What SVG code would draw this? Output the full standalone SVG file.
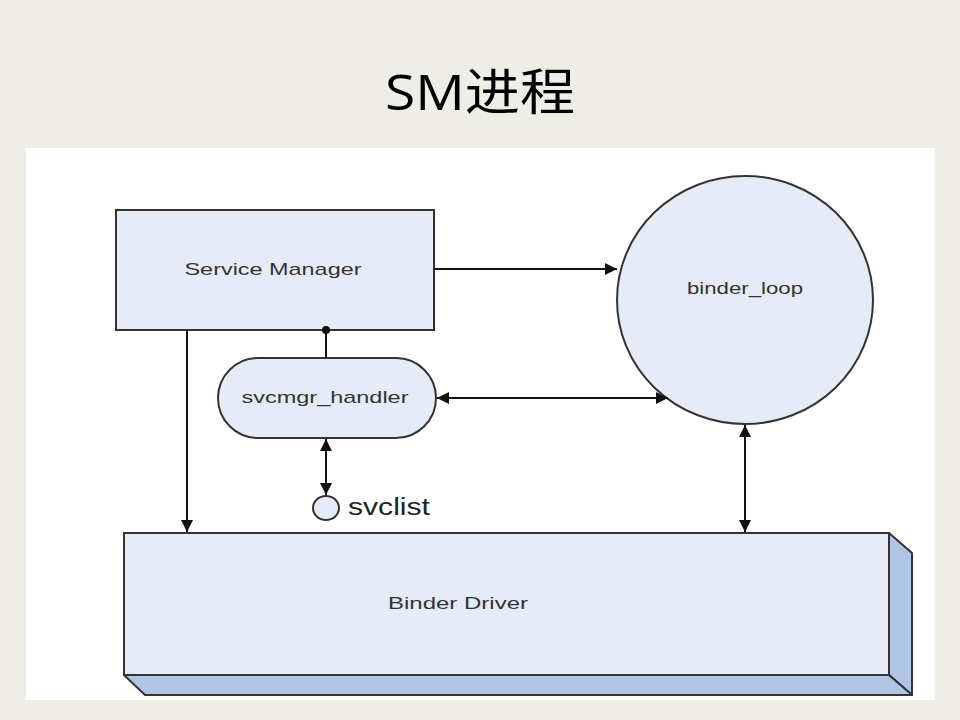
<svg xmlns="http://www.w3.org/2000/svg" width="960" height="720" viewBox="0 0 960 720">
<defs>
<style>
.node{fill:#E6ECF7;stroke:#333;stroke-width:2}
.side{fill:#B0C4E3;stroke:#333;stroke-width:2;stroke-linejoin:round}
.lbl{font-family:"Liberation Sans",Arial,sans-serif;font-size:17px;fill:#333;text-anchor:middle}
.conn{stroke:#111;stroke-width:2;fill:none}
</style>
<marker id="ahb" viewBox="0 0 10 10" refX="10" refY="5" markerWidth="20" markerHeight="12" markerUnits="userSpaceOnUse" orient="auto-start-reverse">
<path d="M0,0 L10,5 L0,10 z" fill="#111"/>
</marker>
</defs>
<rect width="960" height="720" fill="#EEEDE6"/>
<rect x="26" y="148" width="909" height="552" fill="#FFFFFF"/>
<text x="480" y="110" font-family="'Open Sans','Noto Sans CJK SC',sans-serif" font-size="50" text-anchor="middle" fill="#000" textLength="190" lengthAdjust="spacingAndGlyphs">SM进程</text>

<g id="binder-driver">
<polygon class="side" points="889,533 912,553 912,695 889,675"/>
<polygon class="side" points="124,675 889,675 912,695 145,695"/>
<rect class="node" x="124" y="533" width="765" height="142"/>
<text class="lbl" x="458" y="609" font-size="18" textLength="140" lengthAdjust="spacingAndGlyphs">Binder Driver</text>
</g>

<g id="service-manager">
<rect class="node" x="116" y="210" width="318" height="120"/>
<text class="lbl" x="273" y="275" textLength="177" lengthAdjust="spacingAndGlyphs">Service Manager</text>
</g>

<g id="svcmgr-handler">
<rect class="node" x="218" y="358" width="218" height="80" rx="40" ry="40"/>
<text class="lbl" x="325" y="403" textLength="167" lengthAdjust="spacingAndGlyphs">svcmgr_handler</text>
</g>

<g id="svclist">
<ellipse class="node" cx="326" cy="508" rx="13" ry="12"/>
<text x="348" y="515" font-family="'Liberation Sans',Arial,sans-serif" font-size="23" fill="#222" textLength="82" lengthAdjust="spacingAndGlyphs">svclist</text>
</g>

<g id="binder-loop">
<ellipse class="node" cx="745" cy="300" rx="128" ry="124"/>
<text class="lbl" x="745" y="294" textLength="116" lengthAdjust="spacingAndGlyphs">binder_loop</text>
</g>

<g id="connectors">
<line class="conn" x1="434" y1="269" x2="617" y2="269" marker-end="url(#ahb)"/>
<line class="conn" x1="187" y1="330" x2="187" y2="532" marker-end="url(#ahb)"/>
<line class="conn" x1="326" y1="330" x2="326" y2="358"/>
<circle cx="326" cy="330" r="4" fill="#111"/>
<line class="conn" x1="437" y1="398" x2="668" y2="398" marker-start="url(#ahb)" marker-end="url(#ahb)"/>
<line class="conn" x1="326" y1="439" x2="326" y2="495" marker-start="url(#ahb)" marker-end="url(#ahb)"/>
<line class="conn" x1="745" y1="425" x2="745" y2="532" marker-start="url(#ahb)" marker-end="url(#ahb)"/>
</g>
</svg>
